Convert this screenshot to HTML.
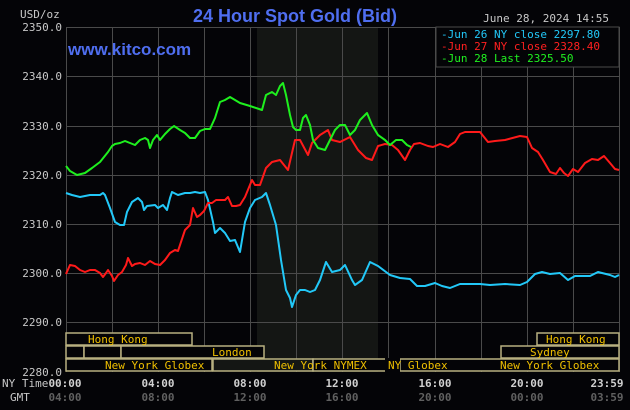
<!DOCTYPE html>
<html><head><meta charset="utf-8"><style>
html,body{margin:0;padding:0;background:#040407;}
svg{display:block}
text{font-family:"DejaVu Sans Mono","Liberation Mono",monospace;}
</style></head><body>
<svg width="630" height="410" viewBox="0 0 630 410" xmlns="http://www.w3.org/2000/svg">
<rect width="630" height="410" fill="#040407"/>
<rect x="257" y="27" width="121" height="345" fill="#141614"/>
<g stroke="#4a4a4a" stroke-width="1">
<line x1="66" y1="27.5" x2="619" y2="27.5"/>
<line x1="66" y1="76.5" x2="619" y2="76.5"/>
<line x1="66" y1="126.5" x2="619" y2="126.5"/>
<line x1="66" y1="175.5" x2="619" y2="175.5"/>
<line x1="66" y1="224.5" x2="619" y2="224.5"/>
<line x1="66" y1="273.5" x2="619" y2="273.5"/>
<line x1="66" y1="322.5" x2="619" y2="322.5"/>
<line x1="66.5" y1="27" x2="66.5" y2="372"/>
<line x1="112.5" y1="27" x2="112.5" y2="372"/>
<line x1="158.5" y1="27" x2="158.5" y2="372"/>
<line x1="204.5" y1="27" x2="204.5" y2="372"/>
<line x1="250.5" y1="27" x2="250.5" y2="372"/>
<line x1="296.5" y1="27" x2="296.5" y2="372"/>
<line x1="342.5" y1="27" x2="342.5" y2="372"/>
<line x1="388.5" y1="27" x2="388.5" y2="372"/>
<line x1="435.5" y1="27" x2="435.5" y2="372"/>
<line x1="481.5" y1="27" x2="481.5" y2="372"/>
<line x1="527.5" y1="27" x2="527.5" y2="372"/>
<line x1="573.5" y1="27" x2="573.5" y2="372"/>
<line x1="619.5" y1="27" x2="619.5" y2="372"/>
</g>
<rect x="436" y="27" width="183" height="40" fill="#040407" stroke="#4a4a4a"/>
<g fill="#c8c8c8" font-size="11" text-anchor="end">
<text x="62" y="31">2350.0</text>
<text x="62" y="80">2340.0</text>
<text x="62" y="130">2330.0</text>
<text x="62" y="179">2320.0</text>
<text x="62" y="228">2310.0</text>
<text x="62" y="277">2300.0</text>
<text x="62" y="326">2290.0</text>
<text x="62" y="376">2280.0</text>
</g>
<text x="20" y="18" fill="#c8c8c8" font-size="11">USD/oz</text>
<text x="295" y="22" fill="#4f6ef0" font-size="18" font-weight="bold" text-anchor="middle" style="font-family:'Liberation Sans',sans-serif">24 Hour Spot Gold (Bid)</text>
<text x="68" y="55" fill="#4f6ef0" font-size="17" font-weight="bold" style="font-family:'Liberation Sans',sans-serif">www.kitco.com</text>
<text x="609" y="22" fill="#c8c8c8" font-size="11" text-anchor="end">June 28, 2024 14:55</text>
<g font-size="11">
<text x="441" y="38" fill="#22c8f8">-Jun 26 NY close 2297.80</text>
<text x="441" y="50" fill="#ff2020">-Jun 27 NY close 2328.40</text>
<text x="441" y="62" fill="#20f020">-Jun 28 Last 2325.50</text>
</g>
<g fill="none" stroke-width="2" stroke-linejoin="round">
<polyline stroke="#22c8f8" points="66,193 72,195 80,197 90,195 100,195 103,193 105,195 110,208 115,222 120,225 124,225 127,212 132,202 138,198 142,202 144,210 147,206 155,205 158,208 163,205 167,210 170,198 172,192 178,195 185,193 190,193 195,192 200,193 205,192 208,200 213,222 215,233 220,228 225,233 230,241 235,240 240,252 245,222 250,208 255,200 262,197 266,193 270,205 276,225 281,260 286,290 290,298 292,307 296,295 300,290 305,290 310,292 315,290 320,280 326,262 332,272 340,270 345,265 352,280 355,285 362,280 370,262 378,266 390,275 400,278 410,279 417,286 425,286 435,283 442,286 450,288 460,284 480,284 490,285 505,284 520,285 527,282 535,274 542,272 550,274 560,273 568,280 575,276 590,276 598,272 610,275 615,277 619,275"/>
<polyline stroke="#ff1a1a" points="66,274 70,265 75,266 80,270 85,272 90,270 95,270 100,273 103,277 106,273 108,270 112,276 114,281 118,275 122,272 126,265 128,258 132,266 135,264 140,263 145,265 150,261 155,264 160,265 165,260 170,253 175,250 178,251 185,230 190,225 193,208 197,217 200,215 204,211 208,203 212,203 216,200 220,200 225,200 228,197 232,206 236,206 240,205 245,197 252,180 255,185 260,185 266,168 272,162 280,160 288,170 295,140 300,140 308,155 312,143 320,135 328,130 332,140 340,142 350,137 358,150 366,158 372,160 378,146 385,144 392,145 398,150 405,160 410,150 414,144 420,143 428,146 433,147 440,144 448,147 455,142 460,134 465,132 480,132 488,142 495,141 505,140 520,136 527,137 532,148 538,152 543,160 550,172 556,174 560,168 564,173 568,176 573,169 578,172 585,163 592,159 598,160 604,156 610,163 615,169 619,170"/>
<polyline stroke="#1ef01e" points="66,166 70,171 77,175 85,173 92,168 100,162 108,152 112,146 115,144 120,143 125,141 130,143 135,145 140,140 145,138 148,140 150,148 153,140 157,135 160,140 165,134 170,129 174,126 180,130 185,133 190,138 195,138 200,131 205,129 210,129 215,118 220,102 225,100 230,97 235,100 240,103 250,106 262,110 266,95 272,92 276,95 280,86 283,83 286,95 290,115 293,127 296,130 300,130 303,118 306,115 310,125 313,140 318,148 325,150 330,140 335,130 340,125 345,125 350,135 355,130 360,120 367,113 372,125 378,135 385,140 390,145 396,140 402,140 407,145 411,147"/>
</g>
<g stroke="#b8b080" stroke-width="1.5" fill="#040407">
<rect x="66" y="333" width="126" height="12"/>
<rect x="537" y="333" width="82" height="12"/>
<rect x="66" y="346" width="18" height="12"/>
<rect x="84" y="346" width="37" height="12"/>
<rect x="121" y="346" width="143" height="12"/>
<rect x="501" y="346" width="118" height="12"/>
<rect x="66" y="359" width="146" height="12"/>
<rect x="213" y="359" width="100" height="12" fill="#141614"/>
<rect x="313" y="359" width="73" height="12"/>
<rect x="400" y="359" width="219" height="12"/>
</g>
<rect x="385" y="358" width="15" height="15" fill="#040407"/>
<g fill="#f0c000" font-size="11">
<text x="88" y="343">Hong Kong</text>
<text x="546" y="343">Hong Kong</text>
<text x="212" y="356">London</text>
<text x="530" y="356">Sydney</text>
<text x="105" y="369">New York Globex</text>
<text x="274" y="369">New York NYMEX</text>
<text x="388" y="369">NY Globex</text>
<text x="500" y="369">New York Globex</text>
</g>
<g font-size="11" text-anchor="middle">
<text x="2" y="387" fill="#c8c8c8" text-anchor="start">NY Time</text>
<text x="10" y="401" fill="#c8c8c8" text-anchor="start">GMT</text>
<g fill="#d0d0d0" font-weight="bold">
<text x="65" y="387">00:00</text><text x="158" y="387">04:00</text><text x="250" y="387">08:00</text><text x="342" y="387">12:00</text><text x="435" y="387">16:00</text><text x="527" y="387">20:00</text><text x="607" y="387">23:59</text>
</g>
<g fill="#606060" font-weight="bold">
<text x="65" y="401">04:00</text><text x="158" y="401">08:00</text><text x="250" y="401">12:00</text><text x="342" y="401">16:00</text><text x="435" y="401">20:00</text><text x="527" y="401">00:00</text><text x="607" y="401">03:59</text>
</g>
</g>
</svg>
</body></html>
